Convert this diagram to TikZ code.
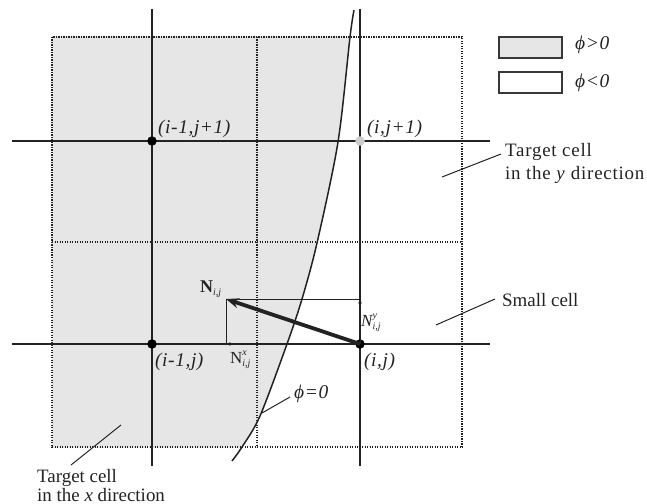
\documentclass[tikz,border=0pt]{standalone}
\usepackage{fontspec}
\setmainfont{Liberation Serif}
\newfontfamily\widefont[LetterSpace=4]{Liberation Serif}
\newfontfamily\labfont[LetterSpace=3]{Liberation Serif}
\usetikzlibrary{arrows.meta}
\definecolor{ink}{HTML}{222222}
\definecolor{phipos}{HTML}{E6E6E6}
\newcommand\tinyit{\fontsize{10}{10}\selectfont\itshape}
\newcommand\supsubs[2]{\makebox[0pt][l]{\raisebox{7.5bp}{\tinyit #1}}\raisebox{-3.5bp}{\tinyit #2}}
\begin{document}
\begin{tikzpicture}[x=1bp,y=-1bp,
  lbl/.style={font=\labfont\fontsize{19.5}{22}\selectfont\itshape, inner sep=0, anchor=base west, text=ink},
  txt/.style={font=\fontsize{19}{22}\selectfont, inner sep=0, anchor=base west, text=ink},
  gridline/.style={draw=ink, line width=1.3bp},
  cellline/.style={draw=ink, line width=1.3bp, dash pattern=on 1.3bp off 1.2bp},
  leader/.style={draw=ink, line width=1bp},
  nodedot/.style={circle, fill=black, inner sep=0, minimum size=9.5bp},
  legbox/.style={draw=ink!90, line width=1.5bp, minimum width=63bp, minimum height=21bp, inner sep=0},
  comp/.style={draw=ink, line width=0.9bp, -{Stealth[length=4.5bp,width=3.5bp]}},
]
\useasboundingbox (0,0) rectangle (647,504);

% phi > 0 region
\begin{scope}
  \clip (52,37) rectangle (462,447);
  \fill[phipos] (0,10) -- plot[smooth] coordinates {(354,10) (350,37) (338,142) (317,243) (302,299) (287,344) (260,416) (242,447) (232,461)} -- (0,461) -- cycle;
\end{scope}

% cells (dotted)
\draw[cellline] (52,37) rectangle (462,447);
\draw[cellline] (257,37) -- (257,447);
\draw[cellline] (52,242) -- (462,242);

% grid lines
\draw[gridline] (152,9) -- (152,466);
\draw[gridline] (360,9) -- (360,466);
\draw[gridline] (12,141) -- (490,141);
\draw[gridline] (12,344) -- (490,344);

% interface phi = 0
\draw[draw=ink, line width=1.5bp] plot[smooth] coordinates {(354,10) (350,37) (338,142) (317,243) (302,299) (287,344) (260,416) (242,447) (232,461)};

% grid points
\node[nodedot] (pA) at (152,141) {};
\node[nodedot, fill=black!20] (pB) at (360,141) {};
\node[nodedot] (pC) at (152,344) {};
\node[nodedot] (pD) at (360,344) {};

% normal vector and its components
\coordinate (ntip) at (226,299);
\coordinate (nx) at (226,344);
\coordinate (ny) at (360,299);
\draw[draw=ink, line width=0.9bp] (nx) -- (ntip) -- (ny);
\draw[comp] (pD.center) -- (nx);
\draw[comp] (pD.center) -- (ny);
\draw[draw=ink, line width=3.8bp, -{Stealth[length=13bp,width=10bp]}] (pD.center) -- (ntip);

% point labels
\node[lbl] (lA) at (158,134) {(i-1,j+1)};
\node[lbl] (lB) at (367,134) {(i,j+1)};
\node[lbl] (lC) at (155,366) {(i-1,j)};
\node[lbl] (lD) at (364,366) {(i,j)};

% vector labels
\node[txt, font=\fontsize{18}{20}\selectfont\bfseries] (lN) at (200,292) {N\raisebox{-3.5bp}{\tinyit\mdseries i,j}};
\node[txt, font=\fontsize{17}{20}\selectfont\itshape] (lNy) at (361,326) {N\supsubs{y}{i,j}};
\node[txt, font=\fontsize{17}{20}\selectfont] (lNx) at (230,363) {N\supsubs{x}{i,j}};

% phi = 0 label
\node[lbl] (lphi) at (294,398) {ϕ=0};
\coordinate (lphiend) at (290,397);
\coordinate (curvept) at (262,413);
\draw[leader] (lphiend) -- (curvept);

% annotations
\node[txt, font=\widefont\fontsize{19}{22}\selectfont] (ty1) at (505,157) {Target cell};
\node[txt, font=\widefont\fontsize{19}{22}\selectfont] (ty2) at (505,180) {in the \textit{y} direction};
\coordinate (tystart) at (501,154);
\coordinate (tyend) at (442,177);
\draw[leader] (tystart) -- (tyend);

\node[txt] (sc) at (502,306) {Small cell};
\coordinate (scstart) at (495,299);
\coordinate (scend) at (436,325);
\draw[leader] (scstart) -- (scend);

\node[txt] (tx1) at (37,482) {Target cell};
\node[txt] (tx2) at (37,501) {in the \textit{x} direction};
\coordinate (txend) at (121,425);
\coordinate (txstart) at (71,465);
\draw[leader] (txstart) -- (txend);

% legend
\node[legbox, fill=phipos] (lg1) at (530.5,47.5) {};
\node[legbox, fill=white] (lg2) at (530.5,82.5) {};
\node[lbl] (lgt1) at (575,50) {ϕ>0};
\node[lbl] (lgt2) at (575,88) {ϕ<0};
\end{tikzpicture}
\end{document}
